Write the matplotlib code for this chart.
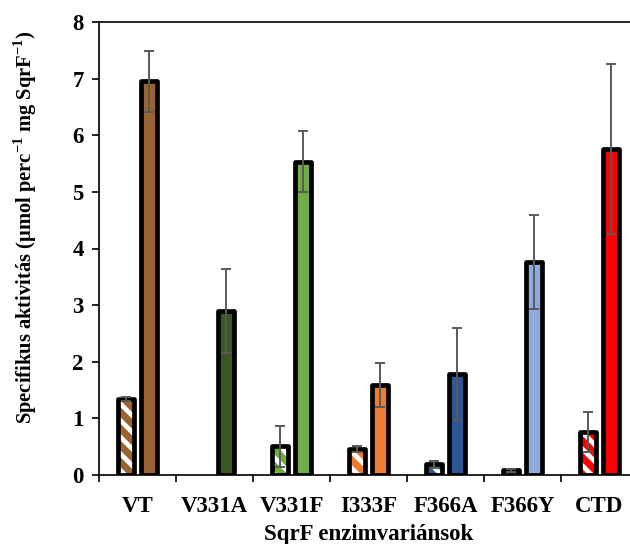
import numpy as np
import matplotlib
matplotlib.use('Agg')
import matplotlib.pyplot as plt

plt.rcParams['font.family'] = ['Liberation Serif', 'DejaVu Serif']
plt.rcParams['font.weight'] = 'bold'
plt.rcParams['mathtext.fontset'] = 'custom'
plt.rcParams['mathtext.rm'] = 'Liberation Serif:bold'
plt.rcParams['mathtext.bf'] = 'Liberation Serif:bold'
plt.rcParams['hatch.linewidth'] = 3.4

# adatok
variants = ['VT', 'V331A', 'V331F', 'I333F', 'F366A', 'F366Y', 'CTD']
colors = ['#9A6431', '#385723', '#70AD47', '#ED7D31', '#2F5597', '#8FAADC', '#FF0000']
hatched_vals = [1.35, 0.0, 0.51, 0.46, 0.19, 0.08, 0.76]
hatched_err = [0.035, 0.0, 0.36, 0.05, 0.065, 0.02, 0.35]
solid_vals = [6.95, 2.9, 5.53, 1.59, 1.78, 3.76, 5.76]
solid_err = [0.54, 0.74, 0.54, 0.39, 0.81, 0.83, 1.5]

fig = plt.figure(figsize=(6.3, 5.44), dpi=100)
ax = fig.add_axes([99/630, 69/544, 539/630, 453/544])

x = np.arange(len(variants))
w = 0.21
off = 0.152

for i in range(len(variants)):
    if hatched_vals[i] > 0:
        # csíkos oszlop: fehér sraffozás, külön fekete keret
        ax.bar(x[i] - off, hatched_vals[i], w, color=colors[i], edgecolor='white',
               hatch='\\\\', linewidth=0, zorder=2)
        ax.bar(x[i] - off, hatched_vals[i], w, facecolor='none', edgecolor='black',
               linewidth=3.4, joinstyle='round', zorder=3)
    ax.bar(x[i] + off, solid_vals[i], w, color=colors[i], edgecolor='black',
           linewidth=3.4, joinstyle='round', zorder=3)

mask = np.array(hatched_vals) > 0
ax.errorbar(x[mask] - off, np.array(hatched_vals)[mask], yerr=np.array(hatched_err)[mask],
            fmt='none', ecolor='#595959', elinewidth=1.4, capsize=3.6, capthick=1.4, zorder=4)
ax.errorbar(x + off, solid_vals, yerr=solid_err, fmt='none', ecolor='#595959',
            elinewidth=1.4, capsize=3.6, capthick=1.4, zorder=4)

ax.set_xlim(-0.5, len(variants) - 0.5)
ax.set_ylim(0, 8)
ax.set_yticks(range(0, 9))
ax.set_xticks(x)
ax.set_xticklabels(variants, fontsize=16.5, fontweight='bold')
ax.set_xticks(np.arange(-0.5, len(variants), 1.0), minor=True)
ax.tick_params(axis='x', which='major', length=0, pad=15)
ax.tick_params(axis='x', which='minor', length=5, width=1.2, direction='out')
ax.tick_params(axis='y', length=5, width=1.2, direction='out', labelsize=16.5, pad=6)
for lab in ax.get_yticklabels():
    lab.set_fontweight('bold')

ax.spines['right'].set_visible(False)
for s in ['left', 'bottom', 'top']:
    ax.spines[s].set_linewidth(1.2)

ax.set_xlabel('SqrF enzimvariánsok', fontsize=16.5, fontweight='bold', labelpad=5)
fig.text(25/630, 1 - 227/544, 'Specifikus aktivitás (µmol perc$^{-1}$ mg SqrF$^{-1}$)',
         rotation=90, ha='center', va='center', fontsize=14.8, fontweight='bold')

fig.savefig('out.png', dpi=100)
